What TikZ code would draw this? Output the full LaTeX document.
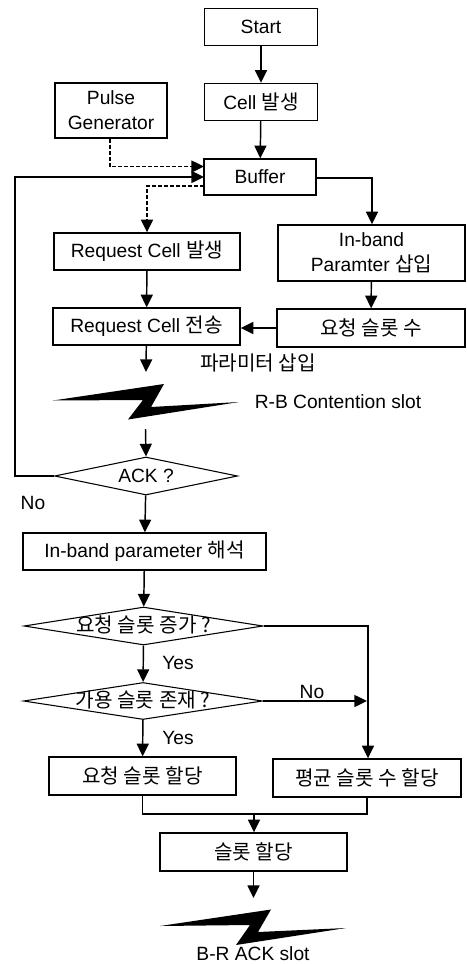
\documentclass[tikz,border=0pt]{standalone}
\usepackage{fontspec}
\setmainfont{Liberation Sans}
\newfontfamily\krfont{Noto Sans CJK KR}[Scale=1.05]
\newcommand{\kr}[1]{{\krfont #1}}
\newcommand{\dtext}[1]{\smash{\raisebox{-0.36em}{#1}}}
\usetikzlibrary{arrows.meta,shapes.geometric}
\tikzset{
  x=0.75pt,y=-0.75pt,
  every node/.style={font=\fontsize{14.4pt}{18.6pt}\selectfont,inner sep=0pt},
  boxnode/.style={draw,line width=1.05pt,align=center,anchor=center},
  decision/.style={draw,line width=0.8pt,diamond,inner sep=0pt,shape aspect=4.8},
  flow/.style={line width=1.1pt,-{Triangle[length=9.5pt,width=9pt]}},
  thinflow/.style={line width=1.05pt,-{Triangle[length=9.5pt,width=9pt]}},
  dashflow/.style={line width=1pt,dash pattern=on 3pt off 1.5pt,-{Triangle[length=9.5pt,width=9pt]}},
  plain/.style={line width=1.05pt},
  bolt/.style={fill=black,draw=none},
}
\newcommand{\bx}[7]{\node[boxnode,minimum width=#3*0.75pt,minimum height=#4*0.75pt] (#1) at (#5,#6) {#7};}
\begin{document}
\begin{tikzpicture}
\useasboundingbox (0,0) rectangle (467,964);
\bx{start}{}{112.5}{37}{261}{27}{Start}
\bx{cell}{}{112.5}{37}{261}{102}{Cell \kr{발생}}
\bx{pulse}{}{112}{55}{111}{110.5}{Pulse\\Generator}
\bx{buffer}{}{112}{36}{260}{177}{Buffer}
\bx{reqgen}{}{186}{37}{147}{251.5}{Request Cell \kr{발생}}
\bx{inband}{}{187}{56}{371.5}{253}{In-band\\Paramter \kr{삽입}}
\bx{reqsend}{}{187}{37}{146.5}{326.5}{Request Cell \kr{전송}}
\bx{slotnum}{}{188}{38}{371}{328}{\kr{요청 슬롯 수}}
\bx{parse}{}{243}{37}{144.5}{551.5}{In-band parameter \kr{해석}}
\bx{reqalloc}{}{187}{38}{142.5}{776}{\kr{요청 슬롯 할당}}
\bx{avgalloc}{}{188}{38}{367}{778}{\kr{평균 슬롯 수 할당}}
\bx{alloc}{}{187}{38}{253.5}{852}{\kr{슬롯 할당}}
\node[decision,minimum width=183*0.75pt,minimum height=38*0.75pt] (ack) at (146,476) {\dtext{ACK ?}};
\node[decision,minimum width=239*0.75pt,minimum height=38*0.75pt] (inc) at (143.5,626) {\dtext{\kr{요청 슬롯 증가 ?}}};
\node[decision,minimum width=239*0.75pt,minimum height=37*0.75pt] (avail) at (143,701) {\dtext{\kr{가용 슬롯 존재 ?}}};
\node (lbparam) at (258,363) {\kr{파라미터 삽입}};
\node (lbrb) at (338,402) {R-B Contention slot};
\node (lbno1) at (33,503) {No};
\node (lbyes1) at (178,663) {Yes};
\node (lbno2) at (312,692) {No};
\node (lbyes2) at (178,738) {Yes};
\node (lbbr) at (253,954) {B-R ACK slot};
% bolts
\fill[bolt] (53,400.5) -- (164,384) -- (151,407) -- (239,402) -- (128,419.5) -- (143,400) -- cycle;
\fill[bolt] (160,926) -- (271,909.5) -- (258,932) -- (346,928) -- (236,945) -- (250,925) -- cycle;
\coordinate (b1top) at (146,372);
\coordinate (b1bot) at (145.5,429);
\coordinate (b2top) at (253.5,898);
\coordinate (pcorner) at (110,166.5);
\coordinate (bufa) at (204,166.5);
\coordinate (bufb) at (204,177);
\coordinate (bufc) at (204,186);
\coordinate (qcorner) at (147,186);
\coordinate (lefttop) at (15,177);
\coordinate (leftbot) at (15,476);
\coordinate (bufr) at (316,178);
\coordinate (brc) at (372,178);
\coordinate (inccorner) at (368,626);
\coordinate (jn) at (254,814);
\coordinate (jl) at (142.5,814);
\coordinate (jr) at (367,814);
\coordinate (availr) at (367,701);
\draw[flow] (start) -- (cell);
\draw[flow] (cell) -- (buffer);
\draw[dashflow] (pulse.south -| pcorner) -- (pcorner) -- (bufa);
\draw[dashflow] (bufc) -- (qcorner) -- (reqgen.north -| qcorner);
\draw[thinflow] (ack.west) -- (leftbot) -- (lefttop) -- (bufb);
\draw[thinflow] (bufr) -- (brc) -- (inband.north -| brc);
\draw[flow] (reqgen) -- (reqsend);
\draw[flow] (inband) -- (slotnum);
\draw[thinflow] (slotnum.west) -- (reqsend.east |- slotnum.west);
\draw[flow] (reqsend) -- (b1top);
\draw[flow] (b1bot) -- (ack.north);
\draw[flow] (ack) -- (parse);
\draw[flow] (parse) -- (inc);
\draw[flow] (inc) -- (avail);
\draw[flow] (avail) -- (reqalloc);
\draw[thinflow] (inc.east) -- (inccorner) -- (avgalloc.north -| inccorner);
\draw[thinflow] (avail.east) -- (availr);
\draw[plain] (reqalloc.south) -- (jl) -- (jr) -- (avgalloc.south -| jr);
\draw[flow] (jn) -- (alloc.north -| jn);
\draw[flow] (alloc) -- (b2top);
\end{tikzpicture}
\end{document}
